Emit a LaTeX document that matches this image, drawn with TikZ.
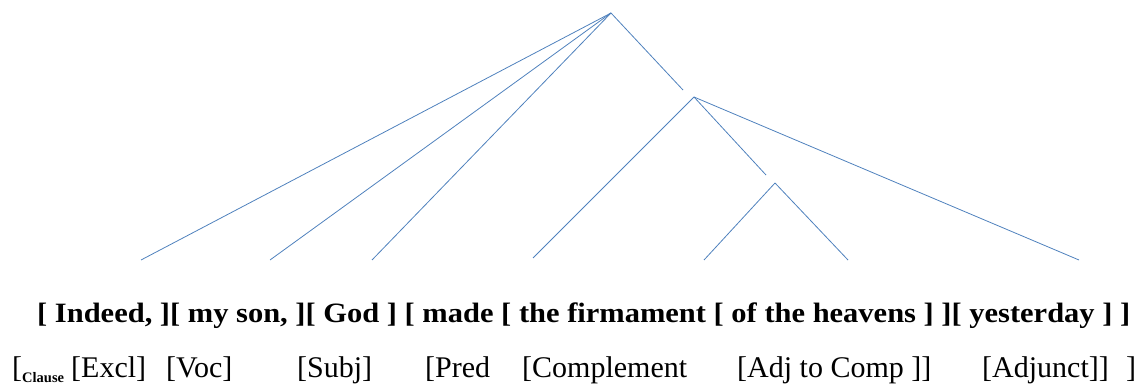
\documentclass[tikz,border=0pt]{standalone}
\usepackage{graphicx}
\usepackage{fontspec}
\setmainfont{Liberation Serif}
\definecolor{branch}{RGB}{79,129,189}
\tikzset{
  edge/.style={draw=branch, line width=0.8pt},
  phrase/.style={inner sep=0pt, anchor=base west, font=\fontsize{28}{33}\selectfont\bfseries},
  fn/.style={inner sep=0pt, anchor=base west, font=\fontsize{30}{35}\selectfont},
}
\begin{document}
\begin{tikzpicture}[x=1pt, y=-1pt]
  \useasboundingbox (0,0) rectangle (1145,385);

  % branching points
  \coordinate (root) at (611,13);
  \coordinate (rootend) at (683,90);
  \coordinate (vp) at (694,97);
  \coordinate (vpend) at (766,175);
  \coordinate (np) at (775,183);

  % leaves
  \coordinate (l1) at (141,260);
  \coordinate (l2) at (270,260);
  \coordinate (l3) at (372,260);
  \coordinate (l4) at (533,258);
  \coordinate (l5) at (704,260);
  \coordinate (l6) at (848,260);
  \coordinate (l7) at (1079,260);

  \draw[edge] (root) -- (l1);
  \draw[edge] (root) -- (l2);
  \draw[edge] (root) -- (l3);
  \draw[edge] (root) -- (rootend);
  \draw[edge] (vp) -- (l4);
  \draw[edge] (vp) -- (vpend);
  \draw[edge] (vp) -- (l7);
  \draw[edge] (np) -- (l5);
  \draw[edge] (np) -- (l6);

  % bracketed sentence, widened to span the tree
  \node[phrase] (sent) at (37,322) {\resizebox{1093pt}{\height}{[ Indeed, ][ my son, ][ God ] [ made [ the firmament [ of the heavens ] ][ yesterday ] ]}};

  % function labels
  \node[fn] (clause) at (12,377) {[\raisebox{-5pt}{\fontsize{14.5}{16}\selectfont\bfseries Clause}};
  \node[fn] (excl) at (71,377) {[Excl]};
  \node[fn] (voc) at (166,377) {[Voc]};
  \node[fn] (subj) at (297,377) {[Subj]};
  \node[fn] (pred) at (425,377) {[Pred};
  \node[fn] (comp) at (522,377) {[Complement};
  \node[fn] (adj) at (737,377) {[Adj to Comp ]]};
  \node[fn] (adjunct) at (982,377) {[Adjunct]]};
  \node[fn] (close) at (1126,377) {]};
\end{tikzpicture}
\end{document}
